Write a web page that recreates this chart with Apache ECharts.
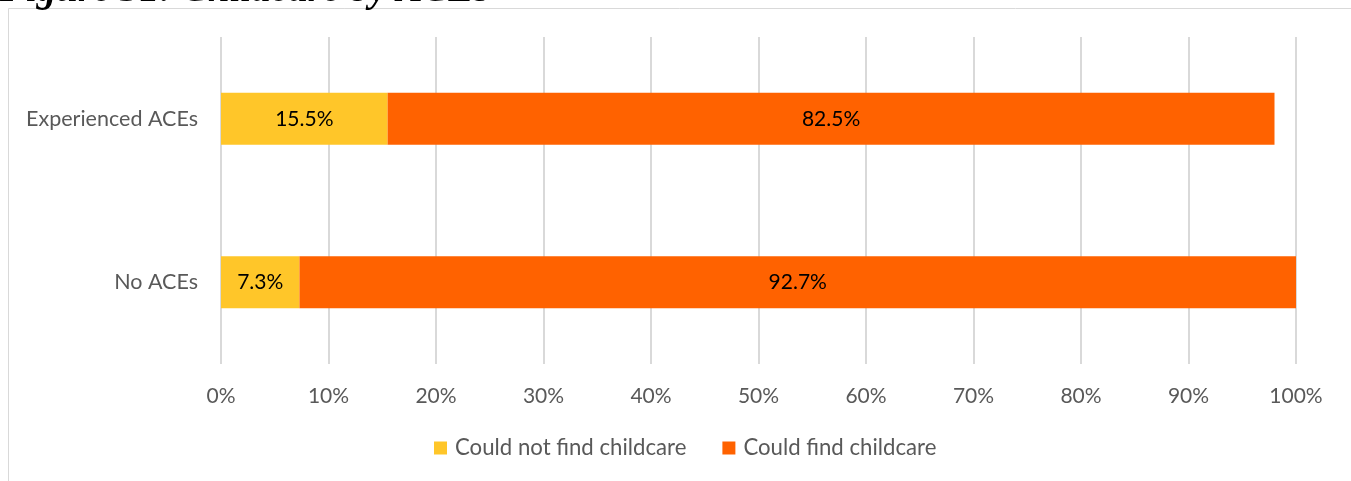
<!DOCTYPE html>
<html>
<head>
<meta charset="utf-8">
<script src="https://cdn.jsdelivr.net/npm/echarts@6/dist/echarts.min.js"></script>
<style>
html,body{margin:0;padding:0;background:#fff;}
#c{width:1351px;height:481px;}
</style>
</head>
<body>
<div id="c"></div>
<script>
const categories = ['Experienced ACEs', 'No ACEs'];
const couldNotFind = [15.5, 7.3];
const couldFind = [82.5, 92.7];
const seriesNames = ['Could not find childcare', 'Could find childcare'];
const tickLabels = ['0%','10%','20%','30%','40%','50%','60%','70%','80%','90%','100%'];

const chart = echarts.init(document.getElementById('c'), null, {renderer: 'canvas'});
const font = 'Lato, "Open Sans", sans-serif';
chart.setOption({
  animation: false,
  backgroundColor: '#fff',
  grid: {left: 221, right: 55, top: 37, bottom: 117, containLabel: false},
  xAxis: {
    type: 'value', min: 0, max: 100, interval: 10,
    axisLine: {show: false}, axisTick: {show: false},
    splitLine: {show: true, lineStyle: {color: '#d9d9d9', width: 2}},
    axisLabel: {
      margin: 22, color: '#595959', fontSize: 21, fontFamily: font,
      formatter: function (v) { return tickLabels[Math.round(v / 10)]; }
    }
  },
  yAxis: {
    type: 'category', data: categories, inverse: true,
    axisLine: {show: false}, axisTick: {show: false},
    axisLabel: {margin: 23, color: '#595959', fontSize: 21.5, fontFamily: font}
  },
  legend: {
    bottom: 17, left: 429, itemWidth: 13, itemHeight: 13, itemGap: 36,
    icon: 'rect',
    textStyle: {color: '#595959', fontSize: 22.2, fontFamily: font, padding: [0,0,0,3]},
    data: seriesNames
  },
  series: [
    {
      name: seriesNames[0], type: 'bar', stack: 'a', data: couldNotFind, barWidth: 52,
      itemStyle: {color: '#FFC629'},
      label: {show: true, position: 'inside', color: '#000', fontSize: 21, fontFamily: font,
        formatter: p => p.value.toFixed(1) + '%'}
    },
    {
      name: seriesNames[1], type: 'bar', stack: 'a', data: couldFind, barWidth: 52,
      itemStyle: {color: '#FF6200'},
      label: {show: true, position: 'inside', color: '#000', fontSize: 21, fontFamily: font,
        formatter: p => p.value.toFixed(1) + '%'}
    }
  ],
  graphic: [
    {type: 'line', shape: {x1: 8.5, y1: 8.5, x2: 1351, y2: 8.5}, style: {stroke: '#d9d9d9', lineWidth: 1}, silent: true},
    {type: 'line', shape: {x1: 8.5, y1: 8.5, x2: 8.5, y2: 481}, style: {stroke: '#d9d9d9', lineWidth: 1}, silent: true},
    {type: 'text', left: 0, top: -29, silent: true,
      style: {text: 'Figure 31: Childcare by ACEs', font: 'italic bold 39px "Liberation Serif", "DejaVu Serif", serif', fill: '#000'}}
  ]
});
</script>
</body>
</html>
